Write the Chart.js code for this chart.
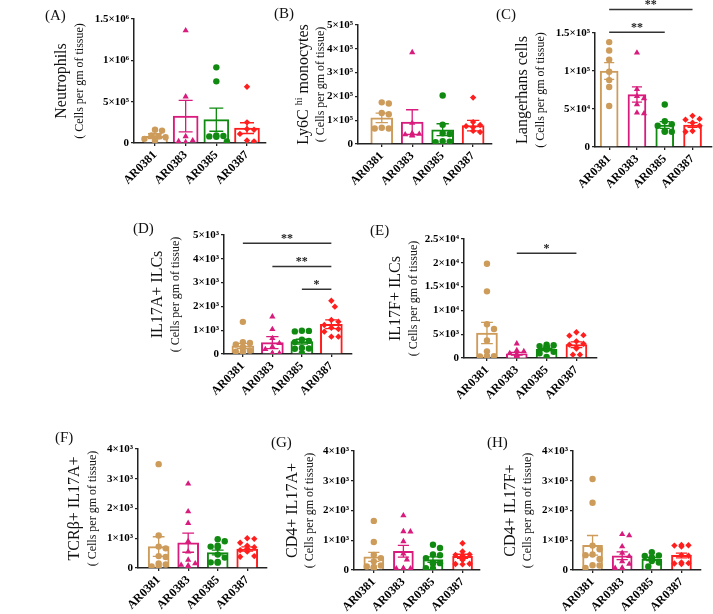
<!DOCTYPE html>
<html>
<head>
<meta charset="utf-8">
<script src="https://cdn.jsdelivr.net/npm/chart.js@4.4.1/dist/chart.umd.min.js"></script>
<style>
body { margin: 0; background: #fff; }
#fig { position: relative; width: 713px; height: 614px; overflow: hidden; }
canvas { position: absolute; }
.lab { position: absolute; font: 15px "Liberation Serif", serif; color: #111; line-height: 1; white-space: nowrap; }
</style>
</head>
<body>
<div id="fig"></div>
<script>
var groups = ["AR0381", "AR0383", "AR0385", "AR0387"];
var colors = ["#CD9B5A", "#D81B7C", "#108A10", "#FF1E1E"];
var shapes = ["circle", "triangle", "circle", "rectRot"];

// (A) Neutrophils
var neutroPts = [[160000, 150000, 90000, 80000, 70000, 50000, 30000],
    [1360000, 560000, 80000, 30000, 20000, 10000],
    [915000, 746000, 90000, 85000, 80000, 75000, 20000],
    [680000, 250000, 170000, 160000, 110000, 30000, 20000]];
var neutroMean = [82000, 325000, 282000, 180000];
var neutroSem = [30000, 190000, 140000, 65000];
var neutroTicks = ["0", "5×10⁵", "1×10⁶", "1.5×10⁶"];

// (B) Ly6C hi monocytes
var ly6cPts = [[175000, 170000, 130000, 125000, 68000, 65000, 65000],
    [385000, 88000, 45000, 42000, 40000, 38000, 35000],
    [204000, 81000, 45000, 42000, 12000, 10000, 8000],
    [195000, 92000, 80000, 75000, 70000, 55000, 50000]];
var ly6cMean = [110000, 92000, 60000, 77000];
var ly6cSem = [20000, 52000, 25000, 22000];
var ly6cTicks = ["0", "1×10⁵", "2×10⁵", "3×10⁵", "4×10⁵", "5×10⁵"];

// (C) Langerhans cells
var langPts = [[138000, 127000, 115000, 99000, 88000, 79000, 54000],
    [124000, 76000, 67000, 64000, 56000, 45000, 44000],
    [56000, 34000, 30000, 28000, 21000, 20000, 20000],
    [41000, 37000, 36000, 32000, 28000, 21000, 20000]];
var langMean = [100000, 69000, 29000, 29000];
var langSem = [11000, 10000, 4500, 3000];
var langTicks = ["0", "5×10⁴", "1×10⁵", "1.5×10⁵"];
var langSig = [[0, 2, 151000, "**"], [0, 3, 181000, "**"]];

// (D) IL17A+ ILCs
var il17aPts = [[1350, 500, 460, 400, 300, 250, 150, 100, 80, 60],
    [1570, 1040, 660, 450, 310, 200, 30, 30, 20, 20],
    [980, 970, 950, 600, 550, 500, 250, 230, 220, 30],
    [2240, 1990, 1430, 1360, 1220, 1100, 1050, 940, 730, 730]];
var il17aMean = [340, 480, 520, 1250];
var il17aSem = [110, 250, 100, 180];
var il17aTicks = ["0", "1×10³", "2×10³", "3×10³", "4×10³", "5×10³"];
var il17aSig = [[0, 3, 4650, "**"], [1, 3, 3680, "**"], [2, 3, 2720, "*"]];

// (E) IL17F+ ILCs
var il17fPts = [[19800, 14000, 7100, 6100, 3700, 1400, 400, 350, 300, 300],
    [3000, 1600, 1400, 1000, 800, 600, 400, 300, 200, 150],
    [2800, 2700, 2500, 2400, 2200, 2000, 1800, 1300, 1000, 200],
    [5400, 4800, 4700, 3500, 3000, 2800, 2200, 2000, 700, 700]];
var il17fMean = [5240, 900, 1800, 2800];
var il17fSem = [2230, 300, 250, 600];
var il17fTicks = ["0", "5×10³", "1×10⁴", "1.5×10⁴", "2×10⁴", "2.5×10⁴"];
var il17fSig = [[1, 3, 22000, "*"]];

// (F) TCRb+ IL17A+
var tcrPts = [[3490, 1090, 720, 660, 400, 370, 150, 120, 50, 40],
    [2830, 1900, 1510, 900, 550, 270, 150, 100, 80, 50],
    [970, 900, 750, 720, 700, 450, 350, 200, 190, 180],
    [1000, 980, 850, 750, 700, 650, 600, 550, 400, 380]];
var tcrMean = [720, 850, 520, 640];
var tcrSem = [330, 320, 80, 70];

// (G) CD4+ IL17A+
var cd4aPts = [[1650, 940, 510, 400, 290, 150, 120, 100, 80, 60],
    [1830, 1300, 1290, 960, 550, 350, 60, 50, 50, 40],
    [850, 740, 520, 500, 400, 240, 230, 220, 60, 50],
    [900, 620, 520, 510, 500, 360, 340, 210, 200, 190]];
var cd4aMean = [440, 630, 350, 460];
var cd4aSem = [150, 200, 90, 70];

// (H) CD4+ IL17F+
var cd4fPts = [[3060, 2260, 820, 700, 520, 500, 370, 160, 150, 70],
    [1200, 1160, 790, 570, 460, 290, 200, 70, 60, 50],
    [600, 490, 470, 420, 400, 390, 350, 300, 250, 120],
    [840, 830, 820, 790, 500, 480, 250, 230, 220, 200]];
var cd4fMean = [830, 480, 370, 490];
var cd4fSem = [330, 130, 50, 80];
var k4Ticks = ["0", "1×10³", "2×10³", "3×10³", "4×10³"];

var sub = [["( Cells per gm of tissue)"]];

var panels = [
    { tag: "(A)", lx: 45, ly: 8, title: [["Neutrophils"]], pts: neutroPts, mean: neutroMean, sem: neutroSem, ticks: neutroTicks, step: 500000, sig: [],
      left: 134, top: 19, right: 266, bottom: 143, xmin: -0.685, xmax: 3.62, bar: 25, tx: [-72, -54] },
    { tag: "(B)", lx: 274, ly: 6, title: [["Ly6C "], ["hi", 1], [" monocytes"]], pts: ly6cPts, mean: ly6cMean, sem: ly6cSem, ticks: ly6cTicks, step: 100000, sig: [],
      left: 358, top: 25, right: 492, bottom: 144, xmin: -0.78, xmax: 3.62, bar: 22, tx: [-54, -37] },
    { tag: "(C)", lx: 496, ly: 7, title: [["Langerhans cells"]], pts: langPts, mean: langMean, sem: langSem, ticks: langTicks, step: 50000, sig: langSig,
      left: 595, top: 33, right: 712, bottom: 147, xmin: -0.51, xmax: 3.7, bar: 18, tx: [-72, -54] },
    { tag: "(D)", lx: 133, ly: 221, title: [["IL17A+ ILCs"]], pts: il17aPts, mean: il17aMean, sem: il17aSem, ticks: il17aTicks, step: 1000, sig: il17aSig,
      left: 224, top: 235, right: 352, bottom: 354, xmin: -0.64, xmax: 3.7, bar: 22, tx: [-66, -48] },
    { tag: "(E)", lx: 370, ly: 223, title: [["IL17F+ ILCs"]], pts: il17fPts, mean: il17fMean, sem: il17fSem, ticks: il17fTicks, step: 5000, sig: il17fSig,
      left: 464, top: 239, right: 597, bottom: 358, xmin: -0.77, xmax: 3.69, bar: 21, tx: [-68, -50] },
    { tag: "(F)", lx: 55, ly: 430, title: [["TCRβ+ IL17A+"]], pts: tcrPts, mean: tcrMean, sem: tcrSem, ticks: k4Ticks, step: 1000, sig: [],
      left: 138, top: 449, right: 267, bottom: 568, xmin: -0.7, xmax: 3.67, bar: 21, tx: [-63, -45] },
    { tag: "(G)", lx: 271, ly: 435, title: [["CD4+ IL17A+"]], pts: cd4aPts, mean: cd4aMean, sem: cd4aSem, ticks: k4Ticks, step: 1000, sig: [],
      left: 354, top: 451, right: 480, bottom: 570, xmin: -0.67, xmax: 3.59, bar: 20, tx: [-61, -44] },
    { tag: "(H)", lx: 487, ly: 435, title: [["CD4+ IL17F+"]], pts: cd4fPts, mean: cd4fMean, sem: cd4fSem, ticks: k4Ticks, step: 1000, sig: [],
      left: 573, top: 451, right: 701, bottom: 570, xmin: -0.66, xmax: 3.66, bar: 20, tx: [-62, -45] }
];

var serif = '"Liberation Serif", "Times New Roman", serif';
var panelOf = new Map();

// simple beeswarm so points at similar heights sit side by side
function swarm(vals, ymax, hPx, spacing, maxPx) {
    var d = 6.4, placed = [], off = [];
    var order = vals.map(function (v, i) { return i; }).sort(function (a, b) { return vals[b] - vals[a]; });
    order.forEach(function (i) {
        var yp = vals[i] / ymax * hPx, best = 0;
        for (var k = 0; k < 30; k++) {
            var dx = (k % 2 ? 1 : -1) * Math.ceil(k / 2) * d * 0.55;
            if (Math.abs(dx) > maxPx) break;
            var ok = placed.every(function (p) {
                return (dx - p[0]) * (dx - p[0]) + (yp - p[1]) * (yp - p[1]) >= d * d;
            });
            if (ok) { best = dx; break; }
        }
        placed.push([best, yp]);
        off[i] = best / spacing;
    });
    return off;
}

function drawRot(ctx, x, y, segs, size) {
    ctx.save();
    ctx.translate(x, y);
    ctx.rotate(-Math.PI / 2);
    ctx.textBaseline = "middle";
    ctx.textAlign = "left";
    ctx.fillStyle = "#111";
    var w = 0;
    segs.forEach(function (s) {
        ctx.font = (s[1] ? Math.round(size * 0.6) : size) + "px " + serif;
        w += ctx.measureText(s[0]).width;
    });
    var cur = -w / 2;
    segs.forEach(function (s) {
        ctx.font = (s[1] ? Math.round(size * 0.6) : size) + "px " + serif;
        ctx.fillText(s[0], cur, s[1] ? -size * 0.3 : 0);
        cur += ctx.measureText(s[0]).width;
    });
    ctx.restore();
}

var deco = {
    id: "deco",
    afterDatasetDraw: function (chart, args) {
        var p = panelOf.get(chart.canvas);
        if (!p || args.index !== 0) return;
        var ctx = chart.ctx, xs = chart.scales.x, ys = chart.scales.y, c = p.bar * 0.28;
        ctx.save();
        ctx.lineWidth = 1.3;
        p.mean.forEach(function (m, i) {
            var x = xs.getPixelForValue(i);
            var y1 = ys.getPixelForValue(m + p.sem[i]);
            var y0 = ys.getPixelForValue(Math.max(0, m - p.sem[i]));
            ctx.strokeStyle = colors[i];
            ctx.beginPath();
            ctx.moveTo(x, y0); ctx.lineTo(x, y1);
            ctx.moveTo(x - c, y1); ctx.lineTo(x + c, y1);
            ctx.moveTo(x - c, y0); ctx.lineTo(x + c, y0);
            ctx.stroke();
        });
        ctx.restore();
    },
    afterDraw: function (chart) {
        var p = panelOf.get(chart.canvas);
        if (!p) return;
        var ctx = chart.ctx, a = chart.chartArea, xs = chart.scales.x, ys = chart.scales.y;
        var mid = (a.top + a.bottom) / 2;
        drawRot(ctx, a.left + p.tx[0], mid, p.title, 16);
        drawRot(ctx, a.left + p.tx[1], mid, sub, 12);
        ctx.save();
        ctx.strokeStyle = "#333";
        ctx.fillStyle = "#222";
        ctx.lineWidth = 1.5;
        ctx.font = "bold 12px " + serif;
        ctx.textAlign = "center";
        ctx.textBaseline = "alphabetic";
        p.sig.forEach(function (s) {
            var x0 = xs.getPixelForValue(s[0]), x1 = xs.getPixelForValue(s[1]), y = ys.getPixelForValue(s[2]);
            ctx.beginPath();
            ctx.moveTo(x0, y); ctx.lineTo(x1, y);
            ctx.stroke();
            ctx.fillText(s[3], (x0 + x1) / 2, y - 1);
        });
        ctx.restore();
    }
};
Chart.register(deco);

var fig = document.getElementById("fig");

function drawPanel(p) {
    var cl = Math.max(0, p.left - 100), ct = Math.max(0, p.top - 40);
    var cr = p.right + 12, cb = p.bottom + 55;
    var cv = document.createElement("canvas");
    cv.width = cr - cl; cv.height = cb - ct;
    cv.style.left = cl + "px"; cv.style.top = ct + "px";
    cv.style.width = (cr - cl) + "px"; cv.style.height = (cb - ct) + "px";
    fig.appendChild(cv);
    panelOf.set(cv, p);

    var lab = document.createElement("div");
    lab.className = "lab";
    lab.style.left = p.lx + "px"; lab.style.top = p.ly + "px";
    lab.textContent = p.tag;
    fig.appendChild(lab);

    var ymax = (p.ticks.length - 1) * p.step;
    var spacing = (p.right - p.left) / (p.xmax - p.xmin);
    var h = p.bottom - p.top;

    var datasets = [{
        type: "bar",
        data: p.mean.map(function (m, i) { return { x: i, y: m }; }),
        backgroundColor: "#fff",
        borderColor: colors,
        borderWidth: 2,
        barThickness: p.bar,
        order: 2
    }];
    p.pts.forEach(function (vals, i) {
        var off = swarm(vals, ymax, h, spacing, p.bar / 2 - 1);
        datasets.push({
            type: "scatter",
            data: vals.map(function (v, k) { return { x: i + off[k], y: v }; }),
            pointStyle: shapes[i],
            pointRadius: shapes[i] === "triangle" ? 3.6 : 3.2,
            backgroundColor: colors[i],
            borderWidth: 0,
            order: 1
        });
    });

    var axisGrid = { display: true, drawOnChartArea: false, drawTicks: true, tickLength: 3, color: "#222", lineWidth: 1.3, offset: false };
    var axisBorder = { display: true, color: "#222", width: 1.5 };

    new Chart(cv, {
        type: "bar",
        data: { datasets: datasets },
        options: {
            animation: false,
            responsive: false,
            layout: { autoPadding: false, padding: { left: 0, top: p.top - ct, right: cr - p.right, bottom: 0 } },
            plugins: { legend: { display: false }, tooltip: { enabled: false } },
            scales: {
                x: {
                    type: "linear", min: p.xmin, max: p.xmax, offset: false,
                    afterBuildTicks: function (s) { s.ticks = [0, 1, 2, 3].map(function (v) { return { value: v }; }); },
                    afterFit: function (s) { s.height = cb - p.bottom; },
                    grid: axisGrid, border: axisBorder,
                    ticks: {
                        minRotation: 45, maxRotation: 45, autoSkip: false, padding: 2, color: "#000",
                        font: { family: serif, size: 12, weight: "bold" },
                        callback: function (v) { return groups[Math.round(v)]; }
                    }
                },
                y: {
                    min: 0, max: ymax,
                    afterBuildTicks: function (s) { s.ticks = p.ticks.map(function (t, k) { return { value: k * p.step }; }); },
                    afterFit: function (s) { s.width = p.left - cl; },
                    grid: axisGrid, border: axisBorder,
                    ticks: {
                        padding: 2, color: "#000",
                        font: { family: serif, size: 11, weight: "bold" },
                        callback: function (v, k) { return p.ticks[k]; }
                    }
                }
            }
        }
    });
}

panels.forEach(drawPanel);
</script>
</body>
</html>
